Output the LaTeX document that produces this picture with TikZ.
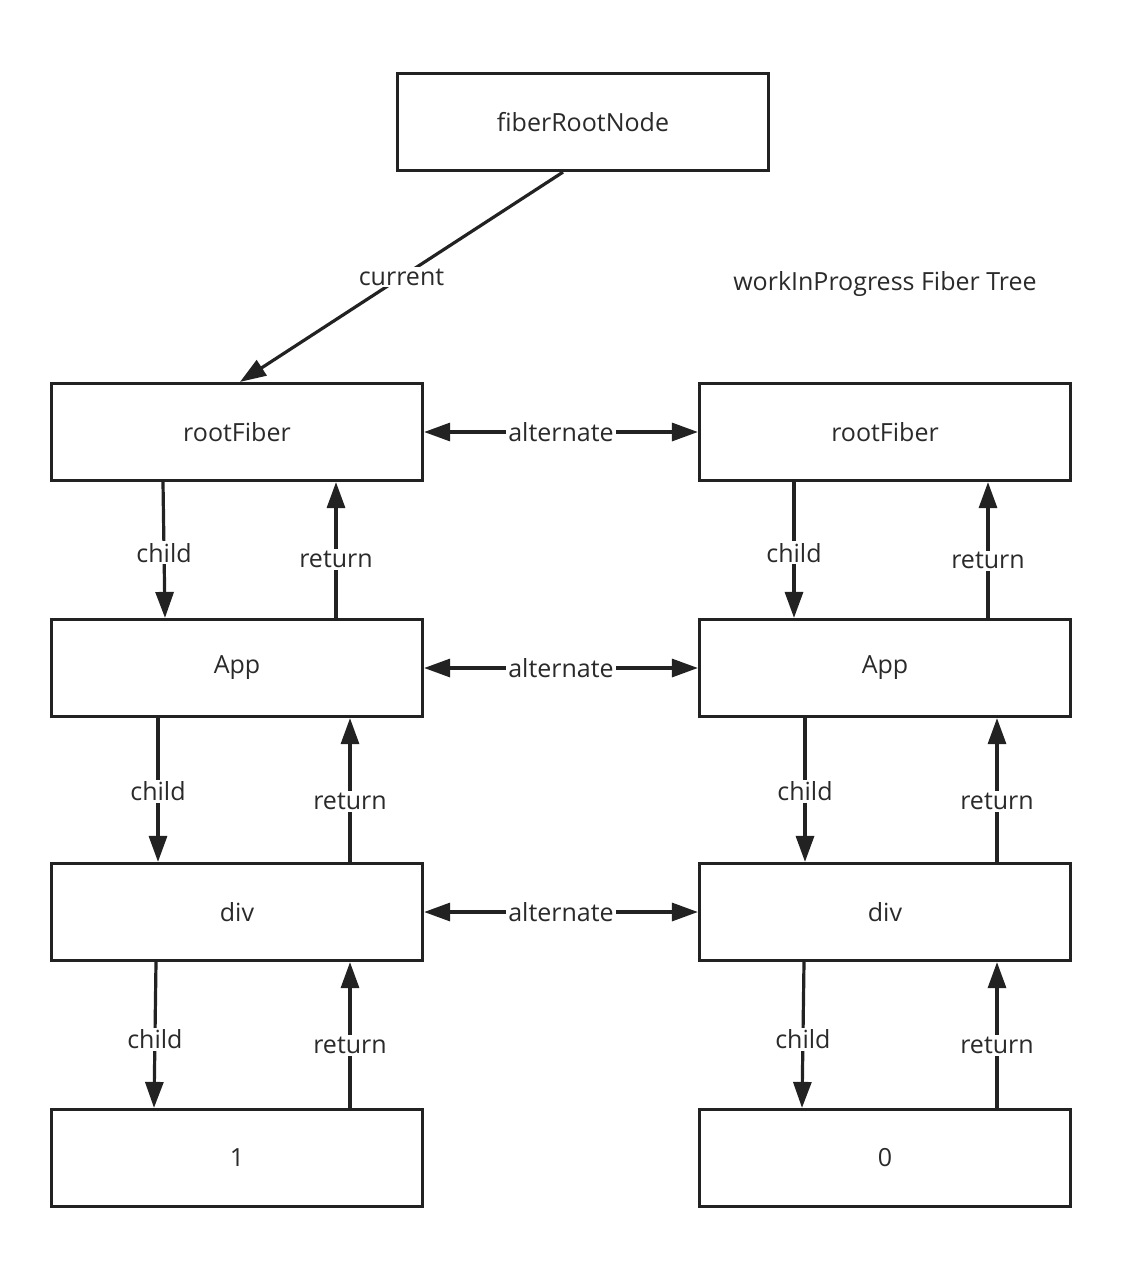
\documentclass[tikz,border=0pt]{standalone}
\usepackage{fontspec}
\setmainfont{Open Sans}
\usetikzlibrary{arrows.meta}
\definecolor{ink}{HTML}{222222}
\definecolor{txt}{HTML}{2a2a2a}
\begin{document}
\begin{tikzpicture}[x=1pt,y=-1pt,
  every node/.style={font=\fontsize{25}{30}\selectfont,text=txt},
  box/.style={draw=ink,line width=3.2pt,minimum width=371pt,minimum height=97pt,inner sep=0pt},
  arr/.style={draw=ink,line width=3.2pt,-{Triangle[length=26pt,width=18pt]}},
  darr/.style={draw=ink,line width=3.2pt,{Triangle[length=26pt,width=18pt]}-{Triangle[length=26pt,width=18pt]}},
  lab/.style={fill=white,inner sep=2pt}]
\useasboundingbox (0,0) rectangle (1130,1270);
% nodes
\node[box] (frn) at (583,122) {fiberRootNode};
\node (wip) at (885,284) {workInProgress Fiber Tree};
\node[box] (rfL) at (237,432) {rootFiber};
\node[box] (appL) at (237,668) {App};
\node[box] (divL) at (237,912) {div};
\node[box] (oneL) at (237,1158) {1};
\node[box] (rfR) at (885,432) {rootFiber};
\node[box] (appR) at (885,668) {App};
\node[box] (divR) at (885,912) {div};
\node[box] (zeroR) at (885,1158) {0};
% current
\draw[arr] ([xshift=-20pt]frn.south) -- node[lab,pos=0.5] {current} ([xshift=3pt]rfL.north);
% alternate
\draw[darr] (rfL.east) -- node[lab] {alternate} (rfR.west);
\draw[darr] (appL.east) -- node[lab] {alternate} (appR.west);
\draw[darr] (divL.east) -- node[lab] {alternate} (divR.west);
% left tree
\draw[arr] ([xshift=-74pt]rfL.south) -- node[lab,pos=0.52] {child} ([xshift=-72pt]appL.north);
\draw[arr] ([xshift=99pt]appL.north) -- node[lab,pos=0.43] {return} ([xshift=99pt]rfL.south);
\draw[arr] ([xshift=-79pt]appL.south) -- node[lab,pos=0.51] {child} ([xshift=-79pt]divL.north);
\draw[arr] ([xshift=113pt]divL.north) -- node[lab,pos=0.42] {return} ([xshift=113pt]appL.south);
\draw[arr] ([xshift=-81pt]divL.south) -- node[lab,pos=0.53] {child} ([xshift=-83pt]oneL.north);
\draw[arr] ([xshift=113pt]oneL.north) -- node[lab,pos=0.43] {return} ([xshift=113pt]divL.south);
% right tree
\draw[arr] ([xshift=-91pt]rfR.south) -- node[lab,pos=0.52] {child} ([xshift=-91pt]appR.north);
\draw[arr] ([xshift=103pt]appR.north) -- node[lab,pos=0.42] {return} ([xshift=103pt]rfR.south);
\draw[arr] ([xshift=-80pt]appR.south) -- node[lab,pos=0.51] {child} ([xshift=-80pt]divR.north);
\draw[arr] ([xshift=112pt]divR.north) -- node[lab,pos=0.42] {return} ([xshift=112pt]appR.south);
\draw[arr] ([xshift=-81pt]divR.south) -- node[lab,pos=0.53] {child} ([xshift=-83pt]zeroR.north);
\draw[arr] ([xshift=112pt]zeroR.north) -- node[lab,pos=0.43] {return} ([xshift=112pt]divR.south);
\end{tikzpicture}
\end{document}
